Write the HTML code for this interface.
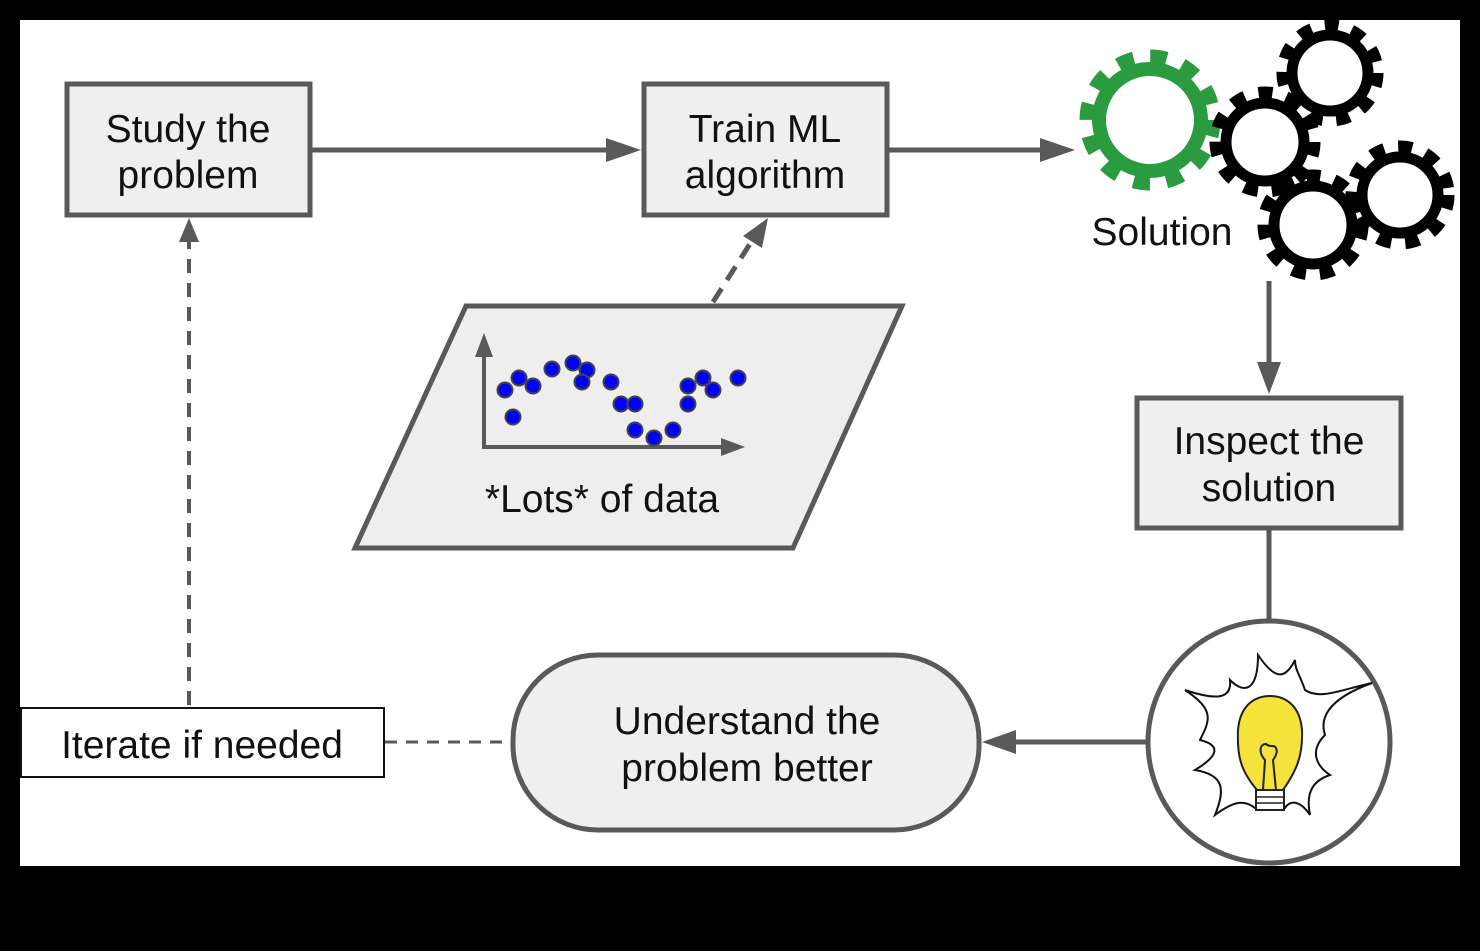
<!DOCTYPE html>
<html><head><style>
html,body{margin:0;padding:0;background:#000;}
svg{display:block;}
text{font-family:"Liberation Sans",Arial,sans-serif;fill:#111;}
</style></head><body>
<svg width="1480" height="951" viewBox="0 0 1480 951" xmlns="http://www.w3.org/2000/svg">
<rect x="0" y="0" width="1480" height="951" fill="#000"/>
<rect x="20" y="20" width="1440" height="846" fill="#fff"/>
<defs>
<clipPath id="cl"><rect x="20" y="20" width="1440" height="846"/></clipPath>
</defs>
<g clip-path="url(#cl)">
<rect x="67" y="84" width="243" height="131" fill="#efefef" stroke="#595959" stroke-width="5"/>
<text x="188" y="142" font-size="39" text-anchor="middle">Study the</text>
<text x="188" y="188" font-size="39" text-anchor="middle">problem</text>
<rect x="644" y="84" width="243" height="131" fill="#efefef" stroke="#595959" stroke-width="5"/>
<text x="765" y="142" font-size="39" text-anchor="middle">Train ML</text>
<text x="765" y="188" font-size="39" text-anchor="middle">algorithm</text>
<line x1="310" y1="150" x2="612" y2="150" stroke="#595959" stroke-width="5"/>
<polygon points="641,150 606,138 606,162" fill="#595959"/>
<line x1="887" y1="150" x2="1045" y2="150" stroke="#595959" stroke-width="5"/>
<polygon points="1075,150 1040,138 1040,162" fill="#595959"/>
<polygon points="466,306 902,306 793,548 355,548" fill="#eeeeee" stroke="#595959" stroke-width="5"/>
<line x1="713" y1="302" x2="755" y2="236" stroke="#595959" stroke-width="5" stroke-dasharray="16,10"/>
<polygon points="768,218 743,236 762,248" fill="#595959"/>
<line x1="484" y1="447" x2="484" y2="350" stroke="#595959" stroke-width="4"/>
<polygon points="484,333 475,357 493,357" fill="#595959"/>
<line x1="482" y1="447" x2="728" y2="447" stroke="#595959" stroke-width="4"/>
<polygon points="745,447 721,438 721,456" fill="#595959"/>
<g fill="#0000ff" stroke="#444" stroke-width="2">
<circle cx="505" cy="390" r="7.5"/><circle cx="519" cy="378" r="7.5"/><circle cx="533" cy="386" r="7.5"/>
<circle cx="513" cy="417" r="7.5"/><circle cx="552" cy="369" r="7.5"/><circle cx="573" cy="363" r="7.5"/>
<circle cx="587" cy="370" r="7.5"/><circle cx="582" cy="382" r="7.5"/><circle cx="611" cy="382" r="7.5"/>
<circle cx="621" cy="404" r="7.5"/><circle cx="635" cy="404" r="7.5"/><circle cx="635" cy="430" r="7.5"/>
<circle cx="654" cy="438" r="7.5"/><circle cx="673" cy="430" r="7.5"/><circle cx="688" cy="404" r="7.5"/>
<circle cx="688" cy="386" r="7.5"/><circle cx="703" cy="378" r="7.5"/><circle cx="713" cy="390" r="7.5"/>
<circle cx="738" cy="378" r="7.5"/>
</g>
<text x="602" y="512" font-size="39" text-anchor="middle">*Lots* of data</text>
<g fill="none">
<circle cx="1150" cy="120" r="51" stroke="#2a9b3e" stroke-width="14"/>
<circle cx="1150" cy="120" r="63" stroke="#2a9b3e" stroke-width="15" stroke-dasharray="16.5,16.5"/>
<g stroke="#000">
<circle cx="1265" cy="142" r="39" stroke-width="11"/>
<circle cx="1265" cy="142" r="49" stroke-width="13" stroke-dasharray="14,14"/>
<circle cx="1330" cy="73" r="38" stroke-width="11"/>
<circle cx="1330" cy="73" r="47" stroke-width="13" stroke-dasharray="13.5,13.5"/>
<circle cx="1313" cy="225" r="39" stroke-width="11"/>
<circle cx="1313" cy="225" r="49" stroke-width="13" stroke-dasharray="14,14"/>
<circle cx="1400" cy="195" r="38" stroke-width="11"/>
<circle cx="1400" cy="195" r="48" stroke-width="13" stroke-dasharray="14,14"/>
</g>
</g>
<text x="1162" y="245" font-size="39" text-anchor="middle">Solution</text>
<line x1="1269" y1="281" x2="1269" y2="368" stroke="#595959" stroke-width="5"/>
<polygon points="1269,394 1257,362 1281,362" fill="#595959"/>
<rect x="1137" y="398" width="264" height="130" fill="#efefef" stroke="#595959" stroke-width="5"/>
<text x="1269" y="454" font-size="39" text-anchor="middle">Inspect the</text>
<text x="1269" y="501" font-size="39" text-anchor="middle">solution</text>
<line x1="1269" y1="528" x2="1269" y2="622" stroke="#595959" stroke-width="5"/>
<circle cx="1269" cy="742" r="121" fill="#fff" stroke="#595959" stroke-width="5"/>
<path d="M1258,655 C1258,690 1245,695 1230,680 C1232,700 1215,700 1185,690 C1215,710 1210,720 1200,740 C1220,745 1220,755 1195,770 C1225,775 1225,790 1215,815 C1235,800 1245,800 1255,808 L1285,808 C1290,800 1300,800 1310,815 C1305,790 1315,780 1330,775 C1315,765 1310,750 1325,735 C1320,720 1325,700 1372,683 C1340,690 1320,700 1305,690 C1300,675 1295,670 1295,660 C1285,680 1275,680 1258,655 Z" fill="#fff" stroke="#111" stroke-width="2"/>
<path d="M1257,808 L1257,790 C1240,770 1237,755 1238,730 C1240,705 1255,696 1270,696 C1285,696 1300,705 1302,730 C1303,755 1297,770 1283,790 L1283,790 Z" fill="#f5e23a" stroke="#222" stroke-width="2"/>
<path d="M1263,790 L1265,760 C1258,752 1260,744 1266,744 C1270,748 1274,744 1276,748 C1278,752 1276,756 1273,760 L1276,790" fill="none" stroke="#222" stroke-width="2"/>
<rect x="1256" y="790" width="28" height="20" fill="#fff" stroke="#222" stroke-width="2"/>
<line x1="1256" y1="797" x2="1284" y2="797" stroke="#222" stroke-width="1.5"/>
<line x1="1256" y1="803" x2="1284" y2="803" stroke="#222" stroke-width="1.5"/>
<line x1="1147" y1="742" x2="1010" y2="742" stroke="#595959" stroke-width="5"/>
<polygon points="982,742 1016,730 1016,754" fill="#595959"/>
<rect x="513" y="655" width="466" height="175" rx="85" ry="85" fill="#efefef" stroke="#595959" stroke-width="5"/>
<text x="747" y="734" font-size="39" text-anchor="middle">Understand the</text>
<text x="747" y="781" font-size="39" text-anchor="middle">problem better</text>
<line x1="385" y1="742" x2="512" y2="742" stroke="#595959" stroke-width="3" stroke-dasharray="12,9"/>
<rect x="21" y="708" width="363" height="69" fill="#fff" stroke="#111" stroke-width="2"/>
<text x="202" y="758" font-size="39" text-anchor="middle">Iterate if needed</text>
<line x1="189" y1="705" x2="189" y2="240" stroke="#595959" stroke-width="4" stroke-dasharray="14,10"/>
<polygon points="189,218 179,242 199,242" fill="#595959"/>
</g>
</svg>
</body></html>
